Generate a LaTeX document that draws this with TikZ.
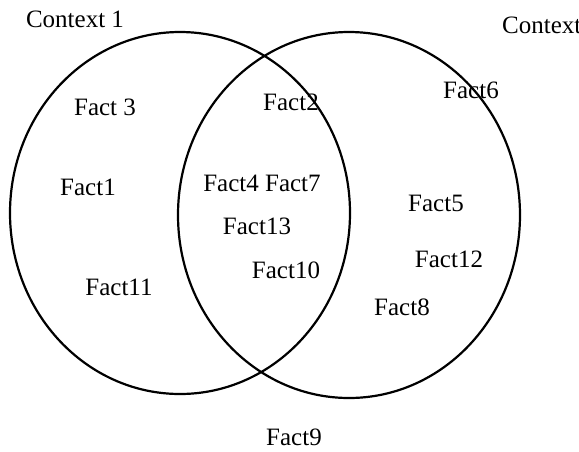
\documentclass[tikz,border=0pt]{standalone}
\usepackage{fontspec}
\setmainfont{Liberation Serif}
\begin{document}
\begin{tikzpicture}[x=1pt,y=-1pt,
  ctx/.style={draw=black, line width=2.2pt},
  lbl/.style={inner sep=0pt, font=\fontsize{25}{28}\selectfont}]
\clip (0,0) rectangle (579,451);
\useasboundingbox (0,0) rectangle (579,451);
\draw[ctx] (180,213) ellipse [x radius=170, y radius=181];
\draw[ctx] (349,215) ellipse [x radius=171, y radius=183];
\node[lbl] (c1) at (75,19) {Context 1};
\node[lbl, anchor=west] (c2) at (502,25) {Context 2};
\node[lbl] (f3) at (105,107) {Fact 3};
\node[lbl] (f2) at (291,102) {Fact2};
\node[lbl] (f6) at (471,90) {Fact6};
\node[lbl] (f1) at (88,187) {Fact1};
\node[lbl] (f47) at (262,183) {Fact4 Fact7};
\node[lbl] (f13) at (257,226) {Fact13};
\node[lbl] (f10) at (286,270) {Fact10};
\node[lbl] (f11) at (119,287) {Fact11};
\node[lbl] (f5) at (436,203) {Fact5};
\node[lbl] (f12) at (449,259) {Fact12};
\node[lbl] (f8) at (402,307) {Fact8};
\node[lbl] (f9) at (294,437) {Fact9};
\end{tikzpicture}
\end{document}
